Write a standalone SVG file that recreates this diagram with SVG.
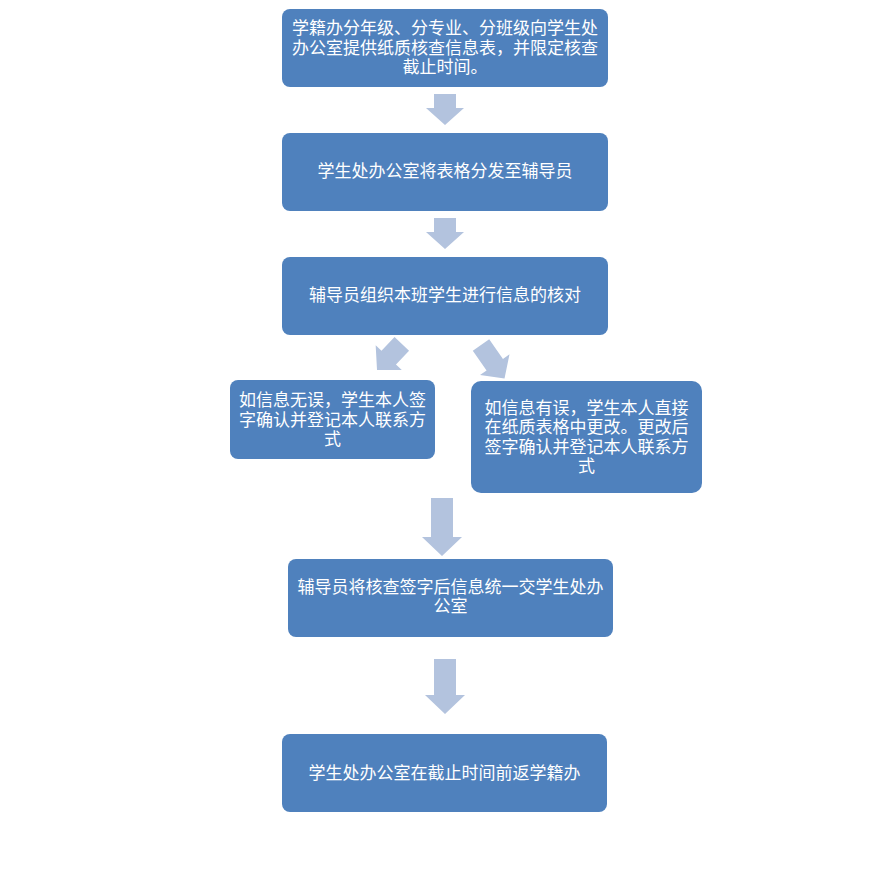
<svg xmlns="http://www.w3.org/2000/svg" width="894" height="870" viewBox="0 0 894 870">
<style>
.box{fill:#4f81bd;}
.arr{fill:#b3c3de;}
text{font-family:"Noto Sans CJK SC","Noto Sans",sans-serif;font-size:17px;fill:#ffffff;text-anchor:middle;}
</style>
<rect width="894" height="870" fill="#ffffff"/>
<g id="connectors">
<polygon class="arr" points="434,94 456,94 456,108 464,108 445,125 426,108 434,108"/>
<polygon class="arr" points="434,218 456,218 456,232 464,232 445,249 426,232 434,232"/>
<polygon class="arr" transform="translate(401.8,343.8) rotate(43.5)" points="-10,0 10,0 10,19 18,19 0,36 -18,19 -10,19"/>
<polygon class="arr" transform="translate(481,345) rotate(-35)" points="-10,0 10,0 10,24 18,24 0,41 -18,24 -10,24"/>
<polygon class="arr" points="431,498 453,498 453,537 462,537 442,556 422,537 431,537"/>
<polygon class="arr" points="434,659 456,659 456,695 465,695 445,714 425,695 434,695"/>
</g>
<g id="n1">
<rect class="box" x="282" y="9" width="326" height="78" rx="8"/>
<text x="445" y="34">学籍办分年级、分专业、分班级向学生处</text>
<text x="445" y="54">办公室提供纸质核查信息表，并限定核查</text>
<text x="445" y="73">截止时间。</text>
</g>
<g id="n2">
<rect class="box" x="282" y="133" width="326" height="78" rx="8"/>
<text x="445" y="177">学生处办公室将表格分发至辅导员</text>
</g>
<g id="n3">
<rect class="box" x="282" y="257" width="326" height="78" rx="8"/>
<text x="445" y="301">辅导员组织本班学生进行信息的核对</text>
</g>
<g id="n4">
<rect class="box" x="230" y="380" width="205" height="79" rx="8"/>
<text x="332.5" y="406">如信息无误，学生本人签</text>
<text x="332.5" y="426">字确认并登记本人联系方</text>
<text x="332.5" y="445">式</text>
</g>
<g id="n5">
<rect class="box" x="471" y="381" width="231" height="112" rx="10"/>
<text x="586.5" y="414">如信息有误，学生本人直接</text>
<text x="586.5" y="433">在纸质表格中更改。更改后</text>
<text x="586.5" y="453">签字确认并登记本人联系方</text>
<text x="586.5" y="472">式</text>
</g>
<g id="n6">
<rect class="box" x="288" y="559" width="325" height="78" rx="8"/>
<text x="450.5" y="593">辅导员将核查签字后信息统一交学生处办</text>
<text x="450.5" y="612">公室</text>
</g>
<g id="n7">
<rect class="box" x="282" y="734" width="325" height="78" rx="8"/>
<text x="444.5" y="779">学生处办公室在截止时间前返学籍办</text>
</g>
</svg>
